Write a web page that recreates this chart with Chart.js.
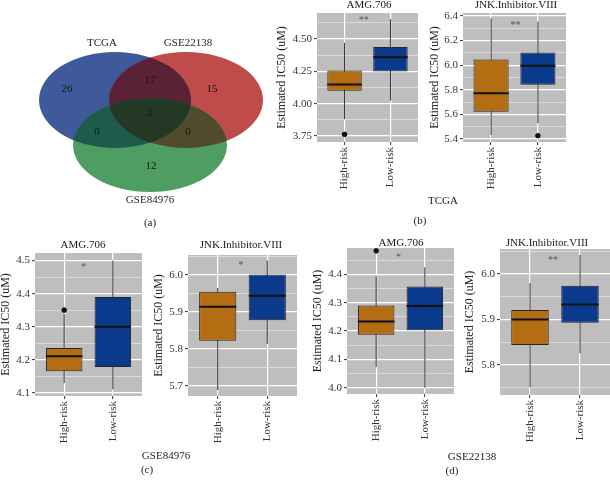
<!DOCTYPE html>
<html>
<head>
<meta charset="utf-8">
<script src="https://cdn.jsdelivr.net/npm/chart.js@4/dist/chart.umd.min.js"></script>
<style>
body{margin:0;background:#fff;}
#page{position:relative;width:610px;height:483px;overflow:hidden;font-family:"Liberation Serif",serif;color:#222;}
canvas{position:absolute;}
.cap{position:absolute;font-size:11px;transform:translate(-50%,-50%);white-space:nowrap;}
</style>
</head>
<body>
<div id="page"></div>
<script>
// ---- data ----
const groups=['High-risk','Low-risk'];
const drugs=['AMG.706','JNK.Inhibitor.VIII'];
const cohorts=['TCGA','GSE84976','GSE22138'];

// venn: TCGA only, GSE22138 only, GSE84976 only, TCGA&GSE22138, TCGA&GSE84976, GSE22138&GSE84976, all three
const vennSets=['TCGA','GSE22138','GSE84976'];
const vennCounts=[26,15,12,17,0,0,2];

// box stats: [lower whisker, Q1, median, Q3, upper whisker]
const tcgaAmgHigh=[3.88,4.10,4.147,4.256,4.47];
const tcgaAmgLow=[4.023,4.248,4.358,4.438,4.652];
const tcgaAmgOut=[[3.763],[]];
const tcgaJnkHigh=[5.433,5.622,5.773,6.046,6.38];
const tcgaJnkLow=[5.528,5.841,5.995,6.103,6.354];
const tcgaJnkOut=[[],[5.427]];
const g84AmgHigh=[4.129,4.165,4.21,4.235,4.338];
const g84AmgLow=[4.11,4.178,4.30,4.39,4.50];
const g84AmgOut=[[4.35],[]];
const g84JnkHigh=[5.689,5.822,5.914,5.955,5.965];
const g84JnkLow=[5.814,5.878,5.944,6.001,6.039];
const g84JnkOut=[[],[]];
const g22AmgHigh=[4.073,4.187,4.234,4.29,4.394];
const g22AmgLow=[4.00,4.203,4.288,4.357,4.425];
const g22AmgOut=[[4.483],[]];
const g22JnkHigh=[5.751,5.844,5.90,5.921,5.98];
const g22JnkLow=[5.826,5.893,5.933,5.974,6.042];
const g22JnkOut=[[],[]];

// significance labels and their heights
const sigLabels=['**','**','*','*','*','**'];
const sigHeights=[4.655,6.343,4.487,6.032,4.468,6.035];

// y tick labels per panel
const yTicksTcgaAmg=[3.75,4.00,4.25,4.50];
const yTicksTcgaJnk=[5.4,5.6,5.8,6.0,6.2,6.4];
const yTicksG84Amg=[4.1,4.2,4.3,4.4,4.5];
const yTicksG84Jnk=[5.7,5.8,5.9,6.0];
const yTicksG22Amg=[4.0,4.1,4.2,4.3,4.4];
const yTicksG22Jnk=[5.8,5.9,6.0];

// ---- layout / style ----
Chart.defaults.font.family='"Liberation Serif", serif';
Chart.defaults.font.size=11;
Chart.defaults.color='#333';
const boxColors=['#B36D12','#0A3A8C'];
const page=document.getElementById('page');

function addCanvas(x,y,w,h){
  const c=document.createElement('canvas');
  c.width=w;c.height=h;
  c.style.left=x+'px';c.style.top=y+'px';
  c.style.width=w+'px';c.style.height=h+'px';
  page.appendChild(c);
  return c;
}
function caption(text,x,y){
  const d=document.createElement('div');
  d.className='cap';d.textContent=text;
  d.style.left=x+'px';d.style.top=y+'px';
  page.appendChild(d);
}

// venn diagram
const vennShapes=[{cx:115,cy:100,rx:76,ry:48},{cx:186,cy:100,rx:77,ry:48},{cx:150,cy:145,rx:77,ry:47}];
const vennSolo=['#3E5A9B','#BF4B4B','#4E9E63'];
const vennPairs=[[0,1,'#5B2137'],[0,2,'#1F5B4B'],[1,2,'#4F4B2C']];
const vennAll='#243826';
const vennCountPos=[[67,89],[212,89],[151,166],[150,80],[97,132],[188,132],[150,113]];
const vennNamePos=[[102,43],[188,43],[150,200]];

function ellPath(ctx,sx,sy,e){
  const x=sx.getPixelForValue(e.cx),y=sy.getPixelForValue(e.cy);
  const rx=sx.getPixelForValue(e.cx+e.rx)-x, ry=sy.getPixelForValue(e.cy+e.ry)-y;
  ctx.beginPath();ctx.ellipse(x,y,Math.abs(rx),Math.abs(ry),0,0,Math.PI*2);
}
const vennPlugin={
  id:'venn',
  beforeDatasetsDraw(chart){
    const ctx=chart.ctx,sx=chart.scales.x,sy=chart.scales.y;
    ctx.save();
    vennShapes.forEach((e,i)=>{ellPath(ctx,sx,sy,e);ctx.fillStyle=vennSolo[i];ctx.fill();});
    vennPairs.forEach(p=>{
      ctx.save();
      ellPath(ctx,sx,sy,vennShapes[p[0]]);ctx.clip();
      ellPath(ctx,sx,sy,vennShapes[p[1]]);ctx.fillStyle=p[2];ctx.fill();
      ctx.restore();
    });
    ctx.save();
    ellPath(ctx,sx,sy,vennShapes[0]);ctx.clip();
    ellPath(ctx,sx,sy,vennShapes[1]);ctx.clip();
    ellPath(ctx,sx,sy,vennShapes[2]);ctx.fillStyle=vennAll;ctx.fill();
    ctx.restore();
    ctx.font='11px "Liberation Serif"';ctx.textAlign='center';ctx.textBaseline='middle';
    ctx.fillStyle='#151515';
    vennCounts.forEach((n,i)=>{
      ctx.fillText(String(n),sx.getPixelForValue(vennCountPos[i][0]),sy.getPixelForValue(vennCountPos[i][1]));
    });
    ctx.fillStyle='#222';
    vennSets.forEach((s,i)=>{
      ctx.fillText(s,sx.getPixelForValue(vennNamePos[i][0]),sy.getPixelForValue(vennNamePos[i][1]));
    });
    ctx.restore();
  }
};
new Chart(addCanvas(0,0,270,240),{
  type:'scatter',
  data:{datasets:[{data:vennCountPos.map(p=>({x:p[0],y:p[1]})),pointRadius:0}]},
  options:{
    responsive:false,animation:false,devicePixelRatio:1,
    layout:{padding:0},
    plugins:{legend:{display:false},tooltip:{enabled:false}},
    scales:{
      x:{type:'linear',min:0,max:270,display:false},
      y:{type:'linear',min:0,max:240,reverse:true,display:false}
    }
  },
  plugins:[vennPlugin]
});

// box plot panels
const panels=[
  {drug:0,high:tcgaAmgHigh,low:tcgaAmgLow,out:tcgaAmgOut,ticks:yTicksTcgaAmg,range:[3.704,4.70],dec:2,sig:0,
   geo:{L:317,T:13,R:421,B:142,yt:282,tx:369,ty:5,sx:1.42}},
  {drug:1,high:tcgaJnkHigh,low:tcgaJnkLow,out:tcgaJnkOut,ticks:yTicksTcgaJnk,range:[5.376,6.424],dec:1,sig:1,
   geo:{L:463,T:13,R:569,B:142,yt:435,tx:516,ty:5,sx:1.52}},
  {drug:0,high:g84AmgHigh,low:g84AmgLow,out:g84AmgOut,ticks:yTicksG84Amg,range:[4.09,4.523],dec:1,sig:2,
   geo:{L:35,T:253,R:145,B:396,yt:6,tx:83,ty:245,sx:1.40}},
  {drug:1,high:g84JnkHigh,low:g84JnkLow,out:g84JnkOut,ticks:yTicksG84Jnk,range:[5.673,6.054],dec:1,sig:3,
   geo:{L:188,T:255,R:297,B:396,yt:159,tx:241,ty:245,sx:1.47}},
  {drug:0,high:g22AmgHigh,low:g22AmgLow,out:g22AmgOut,ticks:yTicksG22Amg,range:[3.978,4.493],dec:1,sig:4,
   geo:{L:347,T:248,R:457,B:394,yt:318,tx:401,ty:243,sx:1.46}},
  {drug:1,high:g22JnkHigh,low:g22JnkLow,out:g22JnkOut,ticks:yTicksG22Jnk,range:[5.734,6.055],dec:1,sig:5,
   geo:{L:500,T:249,R:610,B:395,yt:470,tx:547,ty:243,sx:1.46}}
];

function boxChart(p){
  const g=p.geo;
  const cx0=Math.round(g.yt-7.2), cy0=g.ty-8;
  const w=g.R-cx0+2, h=g.B-cy0+62;
  const step=p.ticks[1]-p.ticks[0];
  const minors=[];
  for(let i=-1;i<p.ticks.length;i++){
    const v=p.ticks[0]+step*(i+0.5);
    if(v>p.range[0]&&v<p.range[1]) minors.push(v);
  }
  const allTicks=p.ticks.concat(minors).sort((a,b)=>a-b);
  const isMajor=v=>p.ticks.some(t=>Math.abs(t-v)<1e-6);
  const halfBox=c=>{const s=c.chart.scales.x;return s.getPixelForValue(1.375)-s.getPixelForValue(1);};
  const outs=[];
  p.out[0].forEach(v=>outs.push({x:1,y:v}));
  p.out[1].forEach(v=>outs.push({x:2,y:v}));
  const deco={
    id:'deco',
    beforeDraw(chart){
      const a=chart.chartArea,ctx=chart.ctx;
      ctx.save();ctx.fillStyle='#BEBEBE';
      ctx.fillRect(a.left,a.top,a.right-a.left,a.bottom-a.top);
      ctx.restore();
    },
    afterDatasetsDraw(chart){
      const ctx=chart.ctx,sx=chart.scales.x,sy=chart.scales.y;
      ctx.save();
      ctx.textAlign='center';ctx.textBaseline='middle';
      ctx.fillStyle='#1a1a1a';ctx.font='11px "Liberation Serif"';
      ctx.fillText(drugs[p.drug],g.tx-cx0,g.ty-cy0);
      ctx.fillStyle='#555';ctx.font='10px "Liberation Serif"';
      ctx.fillText(sigLabels[p.sig],sx.getPixelForValue(g.sx),sy.getPixelForValue(sigHeights[p.sig])+2);
      ctx.restore();
    }
  };
  new Chart(addCanvas(cx0,cy0,w,h),{
    type:'bar',
    data:{datasets:[
      {type:'line',data:[{x:1,y:p.high[2]},{x:2,y:p.low[2]}],showLine:false,pointStyle:'line',
       pointRadius:halfBox,pointBorderWidth:2,pointBorderColor:'#111',order:0},
      {type:'line',data:outs,showLine:false,pointRadius:2.3,pointBackgroundColor:'#111',pointBorderColor:'#111',order:1},
      {type:'bar',data:[{x:1,y:[p.high[1],p.high[3]]},{x:2,y:[p.low[1],p.low[3]]}],
       backgroundColor:boxColors,borderColor:'#262626',borderWidth:1,borderSkipped:false,
       barPercentage:0.75,categoryPercentage:1,order:2},
      {type:'line',data:[{x:1,y:p.high[0]},{x:1,y:p.high[4]},{x:1.5,y:null},{x:2,y:p.low[0]},{x:2,y:p.low[4]}],
       borderColor:'#333',borderWidth:1,pointRadius:0,spanGaps:false,order:3}
    ]},
    options:{
      responsive:false,animation:false,devicePixelRatio:1,
      layout:{padding:{left:0,top:g.T-cy0,right:2,bottom:0}},
      plugins:{legend:{display:false},tooltip:{enabled:false}},
      scales:{
        x:{type:'linear',min:0.4,max:2.6,offset:false,
          afterBuildTicks:s=>{s.ticks=[{value:1},{value:2}];},
          afterFit:s=>{s.height=62;},
          ticks:{callback:v=>groups[v-1]||'',minRotation:90,maxRotation:90,autoSkip:false,padding:2,color:'#333'},
          grid:{color:'#fff',lineWidth:1.2,offset:false,tickLength:3,tickColor:'#333',tickWidth:1},
          border:{display:false}},
        y:{type:'linear',min:p.range[0],max:p.range[1],
          afterBuildTicks:s=>{s.ticks=allTicks.map(v=>({value:v}));},
          afterFit:s=>{s.width=g.L-cx0;},
          ticks:{callback:v=>isMajor(v)?v.toFixed(p.dec):'',autoSkip:false,padding:2,color:'#333'},
          grid:{color:c=>isMajor(c.tick.value)?'#fff':'#ececec',lineWidth:c=>isMajor(c.tick.value)?1.2:0.6,
            tickLength:3,tickColor:c=>isMajor(c.tick.value)?'#333':'rgba(0,0,0,0)',tickWidth:1},
          border:{display:false},
          title:{display:true,text:'Estimated IC50 (uM)',padding:0,color:'#222',font:{size:12}}}
      }
    },
    plugins:[deco]
  });
}
panels.forEach(boxChart);

caption('(a)',150,222);
caption(cohorts[0],443,200);
caption('(b)',420,220);
caption(cohorts[1],166,455);
caption('(c)',147,469);
caption(cohorts[2],472,456);
caption('(d)',452,470);
</script>
</body>
</html>
